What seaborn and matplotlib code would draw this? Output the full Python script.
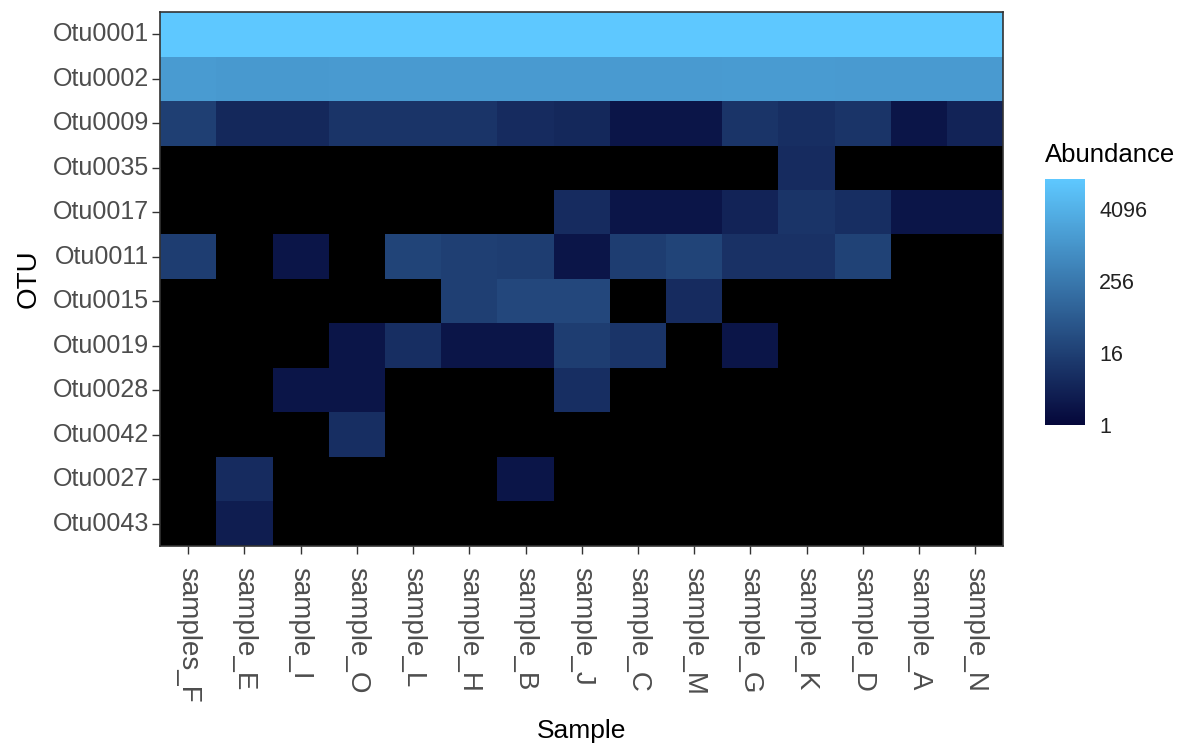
import numpy as np
import pandas as pd
import matplotlib
matplotlib.use("Agg")
import matplotlib.pyplot as plt
from matplotlib.colors import LinearSegmentedColormap, LogNorm
import seaborn as sns

# Data (0 = absent, drawn as black)
samples = ["samples_F", "sample_E", "sample_I", "sample_O", "sample_L", "sample_H", "sample_B",
           "sample_J", "sample_C", "sample_M", "sample_G", "sample_K", "sample_D", "sample_A", "sample_N"]
otus = ["Otu0001", "Otu0002", "Otu0009", "Otu0035", "Otu0017", "Otu0011", "Otu0015",
        "Otu0019", "Otu0028", "Otu0042", "Otu0027", "Otu0043"]

otu0001 = [13000, 13000, 13000, 13000, 13000, 13000, 13000, 13000, 13000, 13000, 13000, 13000, 13000, 13000, 13000]
otu0002 = [1400, 1300, 1300, 1350, 1350, 1350, 1350, 1350, 1350, 1350, 1400, 1400, 1350, 1350, 1350]
otu0009 = [16, 5, 5, 9, 9, 9, 6, 5, 2, 2, 9, 7, 9, 2, 4]
otu0035 = [0, 0, 0, 0, 0, 0, 0, 0, 0, 0, 0, 6, 0, 0, 0]
otu0017 = [0, 0, 0, 0, 0, 0, 0, 6, 2, 2, 4, 9, 7, 2, 2]
otu0011 = [14, 0, 2, 0, 20, 16, 14, 2, 14, 20, 8, 8, 18, 0, 0]
otu0015 = [0, 0, 0, 0, 0, 16, 24, 24, 0, 6, 0, 0, 0, 0, 0]
otu0019 = [0, 0, 0, 2, 7, 2, 2, 14, 9, 0, 2, 0, 0, 0, 0]
otu0028 = [0, 0, 2, 2, 0, 0, 0, 7, 0, 0, 0, 0, 0, 0, 0]
otu0042 = [0, 0, 0, 7, 0, 0, 0, 0, 0, 0, 0, 0, 0, 0, 0]
otu0027 = [0, 6, 0, 0, 0, 0, 2, 0, 0, 0, 0, 0, 0, 0, 0]
otu0043 = [0, 3, 0, 0, 0, 0, 0, 0, 0, 0, 0, 0, 0, 0, 0]

rows = [otu0001, otu0002, otu0009, otu0035, otu0017, otu0011, otu0015,
        otu0019, otu0028, otu0042, otu0027, otu0043]
df = pd.DataFrame(rows, index=otus, columns=samples).astype(float)
df = df.replace(0, np.nan)

sns.set_style("white")
plt.rcParams['font.family'] = ['Liberation Sans', 'DejaVu Sans']

cmap = LinearSegmentedColormap.from_list("abund", ["#05073a", "#5ec8ff"])
norm = LogNorm(vmin=1, vmax=13000)

fig = plt.figure(figsize=(11.86, 7.54), dpi=100)
ax = fig.add_axes([0.135, 0.276, 0.711, 0.708])
cax = fig.add_axes([0.881, 0.437, 0.034, 0.325])

sns.heatmap(df, ax=ax, cbar_ax=cax, cmap=cmap, norm=norm,
            cbar_kws={"ticks": [1, 16, 256, 4096]})
ax.set_facecolor("black")

for s in ax.spines.values():
    s.set_visible(True)
    s.set_color("#333333")
    s.set_linewidth(1.2)

ax.tick_params(axis="both", which="both", direction="out", length=6, width=1,
               color="#333333", labelcolor="#4d4d4d", left=True, bottom=True)
ax.tick_params(axis="y", labelsize=18, pad=2)
ax.tick_params(axis="x", labelsize=20, pad=9)
ax.set_xticklabels(samples, rotation=-90, va="top", ha="center")
ax.set_yticklabels(otus, rotation=0)
ax.set_xlabel("Sample", fontsize=19, color="black", labelpad=12)
ax.set_ylabel("OTU", fontsize=20, color="black", labelpad=8)

cbar = ax.collections[0].colorbar
cbar.outline.set_visible(False)
cbar.ax.set_yticklabels(["1", "16", "256", "4096"])
cbar.ax.tick_params(which="both", direction="in", length=6, width=1.2, color="white",
                    labelcolor="#222222", labelsize=15.5, left=True, right=True, pad=10)
cbar.ax.minorticks_off()
fig.text(0.881, 0.795, "Abundance", fontsize=18.5, color="black", ha="left", va="center")

plt.savefig("out.png", dpi=100)
